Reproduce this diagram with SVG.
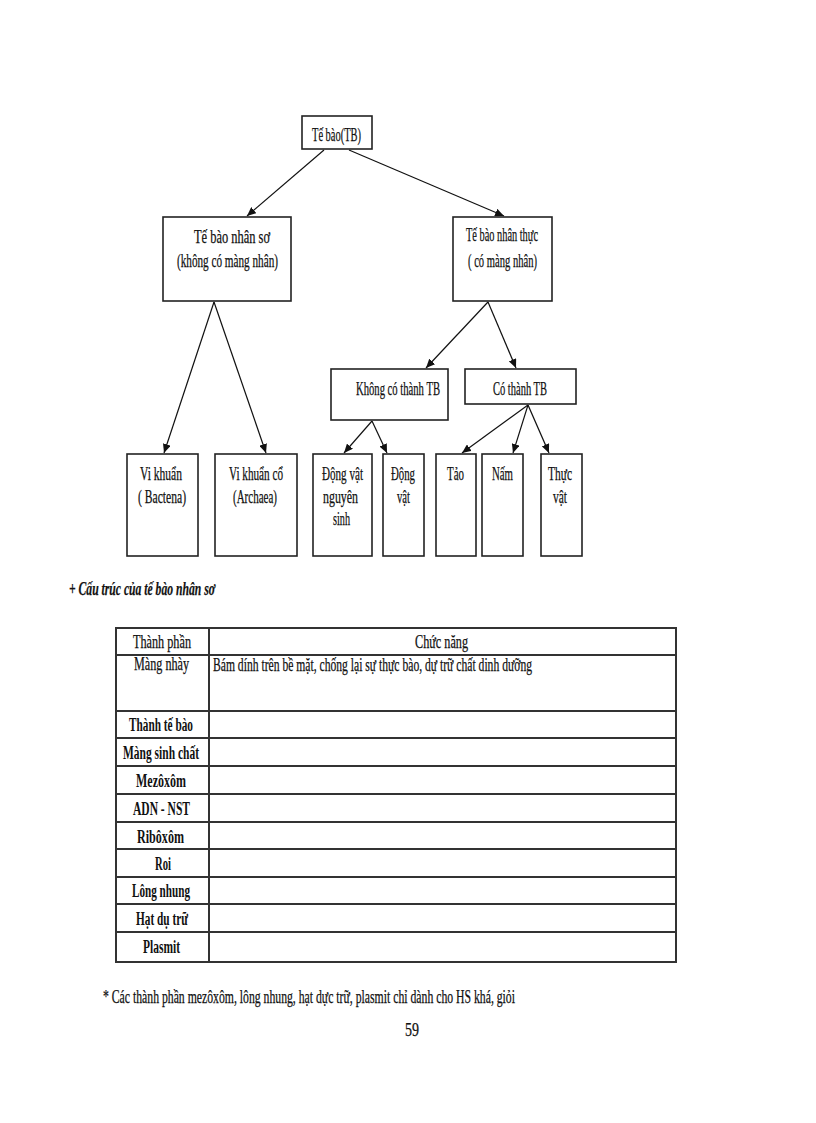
<svg xmlns="http://www.w3.org/2000/svg" width="816" height="1123" viewBox="0 0 816 1123">
<style>
.bx{fill:#fff;stroke:#222;stroke-width:1.6}
.t{font-family:"Liberation Serif","Times New Roman",serif;font-size:18px;fill:#111;stroke:#111;stroke-width:0.25}
.tb{font-family:"Liberation Serif","Times New Roman",serif;font-size:18px;font-weight:bold;fill:#111}
.c{stroke:#111;stroke-width:1.2;fill:none;marker-end:url(#ah)}
.tl{stroke:#333;stroke-width:2;fill:none}
</style>
<defs>
<marker id="ah" markerUnits="userSpaceOnUse" markerWidth="10" markerHeight="8" refX="9" refY="4" orient="auto">
<path d="M0,0 L9,4 L0,8 Z" fill="#111"/>
</marker>
</defs>
<rect width="816" height="1123" fill="#fff"/>
<g id="connectors">
<line class="c" x1="324" y1="150" x2="247" y2="216"/>
<line class="c" x1="349" y1="150" x2="504" y2="216"/>
<line class="c" x1="214" y1="302" x2="164" y2="453"/>
<line class="c" x1="214" y1="302" x2="266" y2="453"/>
<line class="c" x1="488" y1="302" x2="426" y2="368"/>
<line class="c" x1="488" y1="302" x2="516" y2="368"/>
<line class="c" x1="372" y1="421" x2="344" y2="453"/>
<line class="c" x1="372" y1="421" x2="387" y2="453"/>
<line class="c" x1="528" y1="405" x2="462" y2="453"/>
<line class="c" x1="528" y1="405" x2="513" y2="453"/>
<line class="c" x1="528" y1="405" x2="549" y2="453"/>
</g>
<g id="n-tb">
<rect class="bx" x="302" y="116" width="70" height="33"/>
<text class="t" x="312" y="141" textLength="49" lengthAdjust="spacingAndGlyphs">Tế bào(TB)</text>
</g>
<g id="n-nhanso">
<rect class="bx" x="163" y="217" width="128" height="84"/>
<text class="t" x="194" y="243" textLength="76" lengthAdjust="spacingAndGlyphs">Tế bào nhân sơ</text>
<text class="t" x="177" y="267" textLength="101" lengthAdjust="spacingAndGlyphs">(không  có màng nhân)</text>
</g>
<g id="n-nhanthuc">
<rect class="bx" x="453" y="217" width="99" height="84"/>
<text class="t" x="466" y="241" textLength="72" lengthAdjust="spacingAndGlyphs">Tế bào nhân thực</text>
<text class="t" x="468" y="267" textLength="69" lengthAdjust="spacingAndGlyphs">( có màng nhân)</text>
</g>
<g id="n-khongthanh">
<rect class="bx" x="331" y="369" width="117" height="51"/>
<text class="t" x="356" y="395" textLength="84" lengthAdjust="spacingAndGlyphs">Không có thành TB</text>
</g>
<g id="n-cothanh">
<rect class="bx" x="465" y="369" width="111" height="35"/>
<text class="t" x="493" y="395" textLength="54" lengthAdjust="spacingAndGlyphs">Có thành TB</text>
</g>
<g id="n-vikhuan">
<rect class="bx" x="127" y="454" width="71" height="102"/>
<text class="t" x="140" y="480" textLength="42" lengthAdjust="spacingAndGlyphs">Vi khuẩn</text>
<text class="t" x="138" y="503" textLength="48" lengthAdjust="spacingAndGlyphs">( Bactena)</text>
</g>
<g id="n-vikhuanco">
<rect class="bx" x="215" y="454" width="82" height="102"/>
<text class="t" x="229" y="480" textLength="54" lengthAdjust="spacingAndGlyphs">Vi khuẩn cổ</text>
<text class="t" x="233" y="503" textLength="44" lengthAdjust="spacingAndGlyphs">(Archaea)</text>
</g>
<g id="n-dvns">
<rect class="bx" x="313" y="454" width="59" height="102"/>
<text class="t" x="322" y="480" textLength="41" lengthAdjust="spacingAndGlyphs">Động vật</text>
<text class="t" x="323" y="503" textLength="35" lengthAdjust="spacingAndGlyphs">nguyên</text>
<text class="t" x="333" y="525" textLength="17" lengthAdjust="spacingAndGlyphs">sinh</text>
</g>
<g id="n-dv">
<rect class="bx" x="383" y="454" width="41" height="102"/>
<text class="t" x="391" y="480" textLength="24" lengthAdjust="spacingAndGlyphs">Động</text>
<text class="t" x="397" y="503" textLength="13" lengthAdjust="spacingAndGlyphs">vật</text>
</g>
<g id="n-tao">
<rect class="bx" x="436" y="454" width="40" height="102"/>
<text class="t" x="447" y="480" textLength="17" lengthAdjust="spacingAndGlyphs">Tảo</text>
</g>
<g id="n-nam">
<rect class="bx" x="482" y="454" width="41" height="102"/>
<text class="t" x="492" y="480" textLength="21" lengthAdjust="spacingAndGlyphs">Nấm</text>
</g>
<g id="n-thucvat">
<rect class="bx" x="541" y="454" width="41" height="102"/>
<text class="t" x="548" y="480" textLength="24" lengthAdjust="spacingAndGlyphs">Thực</text>
<text class="t" x="553" y="503" textLength="14" lengthAdjust="spacingAndGlyphs">vật</text>
</g>
<text class="t" x="69" y="595" font-weight="bold" font-style="italic" textLength="146" lengthAdjust="spacingAndGlyphs">+ Cấu trúc của tế bào nhân sơ</text>
<g id="table">
<rect class="tl" x="116" y="628" width="560" height="334"/>
<line class="tl" x1="209" y1="628" x2="209" y2="962"/>
<line class="tl" x1="116" y1="655" x2="676" y2="655"/>
<line class="tl" x1="116" y1="711" x2="676" y2="711"/>
<line class="tl" x1="116" y1="738" x2="676" y2="738"/>
<line class="tl" x1="116" y1="766" x2="676" y2="766"/>
<line class="tl" x1="116" y1="794" x2="676" y2="794"/>
<line class="tl" x1="116" y1="822" x2="676" y2="822"/>
<line class="tl" x1="116" y1="849" x2="676" y2="849"/>
<line class="tl" x1="116" y1="877" x2="676" y2="877"/>
<line class="tl" x1="116" y1="904" x2="676" y2="904"/>
<line class="tl" x1="116" y1="932" x2="676" y2="932"/>
<text class="t" x="133" y="648" textLength="58" lengthAdjust="spacingAndGlyphs">Thành phần</text>
<text class="t" x="415" y="648" textLength="53" lengthAdjust="spacingAndGlyphs">Chức năng</text>
<text class="t" x="134" y="670" font-size="16" textLength="55" lengthAdjust="spacingAndGlyphs">Màng nhày</text>
<text class="t" x="213" y="671" font-size="16" textLength="319" lengthAdjust="spacingAndGlyphs">Bám dính  trên bề mặt, chống lại sự thực bào, dự trữ chất dinh dưỡng</text>
<text class="tb" x="129" y="731" textLength="64" lengthAdjust="spacingAndGlyphs">Thành  tế bào</text>
<text class="tb" x="123" y="759" textLength="76" lengthAdjust="spacingAndGlyphs">Màng sinh chất</text>
<text class="tb" x="136" y="787" textLength="50" lengthAdjust="spacingAndGlyphs">Mezôxôm</text>
<text class="tb" x="133" y="815" textLength="57" lengthAdjust="spacingAndGlyphs">ADN - NST</text>
<text class="tb" x="137" y="843" textLength="47" lengthAdjust="spacingAndGlyphs">Ribôxôm</text>
<text class="tb" x="155" y="870" textLength="16" lengthAdjust="spacingAndGlyphs">Roi</text>
<text class="tb" x="132" y="897" textLength="58" lengthAdjust="spacingAndGlyphs">Lông nhung</text>
<text class="tb" x="136" y="925" textLength="52" lengthAdjust="spacingAndGlyphs">Hạt dụ trữ</text>
<text class="tb" x="143" y="953" textLength="37" lengthAdjust="spacingAndGlyphs">Plasmit</text>
</g>
<text class="t" x="103" y="1003" textLength="412" lengthAdjust="spacingAndGlyphs">*  Các thành  phần  mezôxôm,  lông  nhung,  hạt dực trữ, plasmit  chỉ  dành  cho HS khá, giỏi</text>
<text class="t" x="405" y="1036" font-size="16" textLength="14" lengthAdjust="spacingAndGlyphs">59</text>
</svg>
